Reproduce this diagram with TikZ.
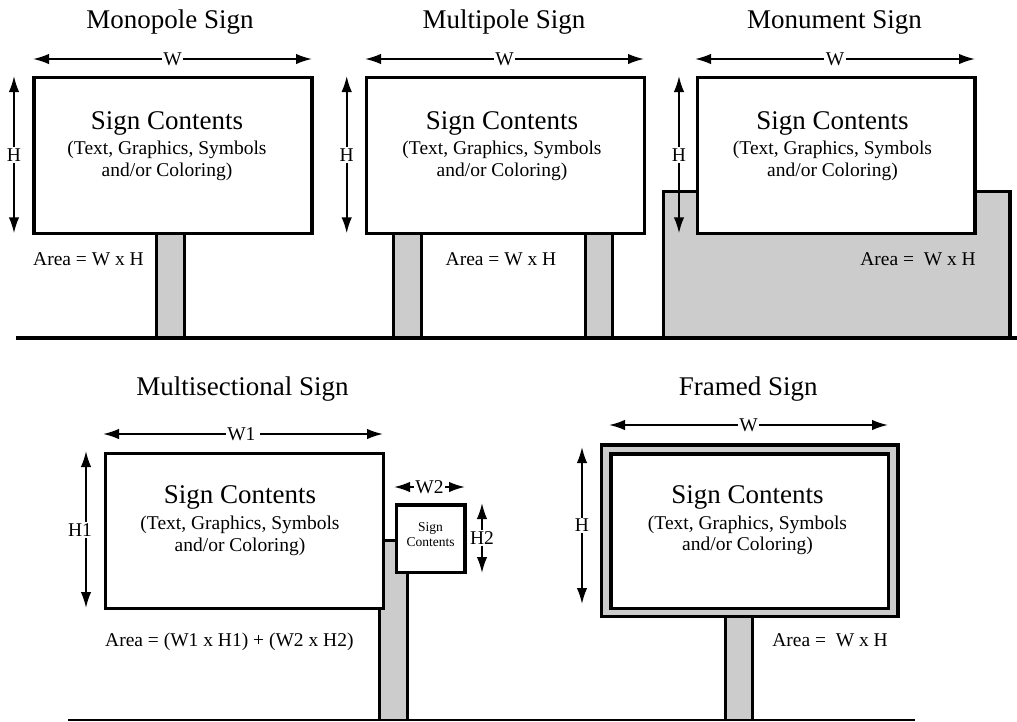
\documentclass[tikz,border=0pt]{standalone}
\usepackage{fontspec}
\setmainfont{Liberation Serif}
\usetikzlibrary{arrows.meta}
\definecolor{signgray}{RGB}{204,204,204}
\tikzset{
  signbox/.style={draw, line width=3.3pt, fill=white, inner sep=0pt, outer sep=0pt},
  frameout/.style={draw, line width=3.3pt, fill=signgray, inner sep=0pt, outer sep=0pt},
  polefill/.style={fill=signgray},
  poleline/.style={line width=3pt},
  ground/.style={line width=4pt},
  thinground/.style={line width=1.5pt},
  dim/.style={line width=1.9pt, {Latex[length=16pt,width=10.5pt]}-{Latex[length=16pt,width=10.5pt]}},
  dimlabel/.style={fill=white, inner sep=1.5pt, font=\fontsize{19.5}{22}\selectfont},
  title/.style={anchor=base, inner sep=0pt, font=\fontsize{27}{32}\selectfont},
  big/.style={anchor=base, inner sep=0pt, font=\fontsize{27}{32}\selectfont},
  sub/.style={anchor=base, inner sep=0pt, font=\fontsize{19.5}{22}\selectfont},
  tiny/.style={anchor=base, inner sep=0pt, font=\fontsize{13.5}{16}\selectfont},
}
\begin{document}
\begin{tikzpicture}[x=1pt,y=-1pt]
\useasboundingbox (0,0) rectangle (1017,721);

% ---------- Titles ----------
\node[title] (t1) at (170,28.3) {Monopole Sign};
\node[title] (t2) at (504,28.3) {Multipole Sign};
\node[title] (t3) at (834.5,28.3) {Monument Sign};
\node[title] (t4) at (242.5,395) {Multisectional Sign};
\node[title] (t5) at (748.3,395) {Framed Sign};

% ---------- Poles and bases (top row) ----------
\fill[polefill] (156,233) rectangle (184,338);
\draw[poleline] (156,338) -- (156,233) (184,233) -- (184,338);
\fill[polefill] (393.3,233) rectangle (421,338);
\draw[poleline] (393.3,338) -- (393.3,233) (421,233) -- (421,338);
\fill[polefill] (585.7,233) rectangle (612.3,338);
\draw[poleline] (585.7,338) -- (585.7,233) (612.3,233) -- (612.3,338);
\node[frameout, minimum width=346.7pt, minimum height=146.3pt] (base3) at (836.65,264.85) {};

\draw[ground] (16,338) -- (1017,338);

% ---------- Sign boxes (top row) ----------
\node[signbox, minimum width=278pt, minimum height=156pt] (b1) at (173,155.4) {};
\node[signbox, minimum width=277.6pt, minimum height=156pt] (b2) at (505.5,155.4) {};
\node[signbox, minimum width=277.3pt, minimum height=156pt] (b3) at (836.3,155.4) {};

% ---------- Texts top row ----------
\node[big] (sc1) at (167,129.3) {Sign Contents};
\node[sub] (sa1) at (167,154.3) {(Text, Graphics, Symbols};
\node[sub] (sb1) at (167,176.7) {and/or Coloring)};
\node[big] (sc2) at (502,129.3) {Sign Contents};
\node[sub] (sa2) at (502,154.3) {(Text, Graphics, Symbols};
\node[sub] (sb2) at (502,176.7) {and/or Coloring)};
\node[big] (sc3) at (832.5,129.3) {Sign Contents};
\node[sub] (sa3) at (832.5,154.3) {(Text, Graphics, Symbols};
\node[sub] (sb3) at (832.5,176.7) {and/or Coloring)};

\node[sub, anchor=base west] (ar1) at (33,265) {Area = W x H};
\node[sub] (ar2) at (501,265) {Area = W x H};
\node[sub, anchor=base east] (ar3) at (976,265) {Area =~ W x H};

% ---------- Dimensions top row ----------
\draw[dim] (33,59) -- node[dimlabel] (w1) {W} (312,59);
\draw[dim] (14,76) -- node[dimlabel] (h1) {H} (14,233.3);
\draw[dim] (365,59) -- node[dimlabel] (w2) {W} (644,59);
\draw[dim] (346.7,76) -- node[dimlabel] (h2) {H} (346.7,233.3);
\draw[dim] (695,59) -- node[dimlabel] (w3) {W} (975,59);
\draw[dim] (679,76) -- node[dimlabel] (h3) {H} (679,233.3);

% ---------- Bottom row: poles ----------
\fill[polefill] (379.3,540.3) rectangle (407.3,721);
\draw[poleline] (379.3,721) -- (379.3,540.3) -- (407.3,540.3) -- (407.3,721);
\fill[polefill] (725,616.7) rectangle (752.7,721);
\draw[poleline] (725,721) -- (725,616.7) (752.7,616.7) -- (752.7,721);

\draw[thinground] (68,720) -- (915,720);

% ---------- Bottom row: boxes ----------
\node[signbox, minimum width=277.6pt, minimum height=155pt] (b4) at (244.5,530.8) {};
\node[signbox, minimum width=68.3pt, minimum height=67.7pt] (b4s) at (430.8,538.8) {};
\node[frameout, minimum width=296.3pt, minimum height=171.7pt] (b5o) at (749.8,530.8) {};
\node[signbox, minimum width=277.3pt, minimum height=154.3pt] (b5) at (749.7,531.2) {};

% ---------- Bottom row: texts ----------
\node[big] (sc4) at (240,503.3) {Sign Contents};
\node[sub] (sa4) at (240,529.3) {(Text, Graphics, Symbols};
\node[sub] (sb4) at (240,551) {and/or Coloring)};
\node[tiny] (ss1) at (430.5,531) {Sign};
\node[tiny] (ss2) at (430.5,546.7) {Contents};
\node[big] (sc5) at (747.5,503.3) {Sign Contents};
\node[sub] (sa5) at (747.5,529.3) {(Text, Graphics, Symbols};
\node[sub] (sb5) at (747.5,550.7) {and/or Coloring)};

\node[sub, anchor=base west] (ar4) at (105,646.7) {Area = (W1 x H1) + (W2 x H2)};
\node[sub, anchor=base east] (ar5) at (888,646) {Area =~ W x H};

% ---------- Bottom row: dimensions ----------
\draw[dim] (103,434) -- node[dimlabel] (w4) {W1\,} (383,434);
\draw[dim] (86,451) -- (86,608);
\node[dimlabel] (h4) at (80,530) {H1};
\draw[dim] (394,487) -- node[dimlabel] (w4s) {W2} (465,487);
\draw[dim] (482,503) -- node[dimlabel] (h4s) {H2} (482,573);
\draw[dim] (609,425) -- node[dimlabel] (w5) {W} (888,425);
\draw[dim] (582,447) -- node[dimlabel] (h5) {H} (582,604);
\end{tikzpicture}
\end{document}
